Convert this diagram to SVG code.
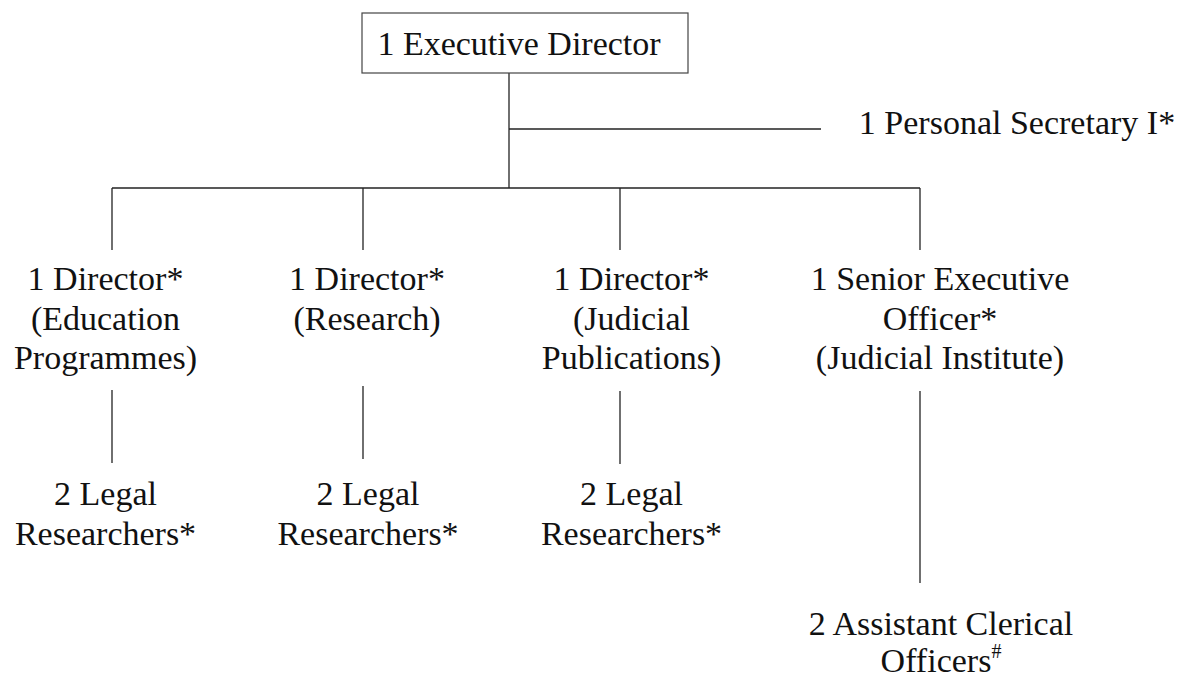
<svg xmlns="http://www.w3.org/2000/svg" width="1181" height="677" viewBox="0 0 1181 677">
  <style>
    .ln { stroke: #222; stroke-width: 1.3; fill: none; }
    .box { fill: #fff; stroke: #444; stroke-width: 1.2; }
  </style>
  <rect width="1181" height="677" fill="#fff"/>

  <!-- connectors -->
  <g id="connectors" class="ln">
    <line x1="509" y1="73" x2="509" y2="188"/>
    <line x1="509" y1="129" x2="821" y2="129"/>
    <line x1="112" y1="188" x2="920" y2="188"/>
    <line x1="112" y1="188" x2="112" y2="250"/>
    <line x1="363" y1="188" x2="363" y2="250"/>
    <line x1="620" y1="188" x2="620" y2="250"/>
    <line x1="920" y1="188" x2="920" y2="250"/>
    <line x1="112" y1="390" x2="112" y2="463"/>
    <line x1="363" y1="386" x2="363" y2="459"/>
    <line x1="620" y1="391" x2="620" y2="464"/>
    <line x1="920" y1="391" x2="920" y2="583"/>
  </g>

  <!-- labels: one serif face, centred on their column -->
  <g font-family="Liberation Serif, Times New Roman, serif" font-size="34" fill="#111" text-anchor="middle">
    <g id="executive-director">
      <rect class="box" x="362" y="13" width="326" height="60"/>
      <text x="519" y="55">1 Executive Director</text>
    </g>

    <g id="personal-secretary">
      <text x="1017" y="134">1 Personal Secretary I*</text>
    </g>

    <g id="director-education">
      <text x="105.5" y="290">1 Director*</text>
      <text x="105.5" y="330">(Education</text>
      <text x="105.5" y="369">Programmes)</text>
    </g>

    <g id="director-research">
      <text x="367" y="290">1 Director*</text>
      <text x="367" y="330">(Research)</text>
    </g>

    <g id="director-publications">
      <text x="631.5" y="290">1 Director*</text>
      <text x="631.5" y="330">(Judicial</text>
      <text x="631.5" y="369">Publications)</text>
    </g>

    <g id="senior-executive-officer">
      <text x="940" y="290">1 Senior Executive</text>
      <text x="940" y="330">Officer*</text>
      <text x="940" y="369">(Judicial Institute)</text>
    </g>

    <g id="researchers-education">
      <text x="105.5" y="505">2 Legal</text>
      <text x="105.5" y="545">Researchers*</text>
    </g>

    <g id="researchers-research">
      <text x="368" y="505">2 Legal</text>
      <text x="368" y="545">Researchers*</text>
    </g>

    <g id="researchers-publications">
      <text x="631.5" y="505">2 Legal</text>
      <text x="631.5" y="545">Researchers*</text>
    </g>

    <g id="clerical-officers">
      <text x="941" y="635">2 Assistant Clerical</text>
      <text x="941" y="672">Officers<tspan font-size="20" dy="-14">#</tspan></text>
    </g>
  </g>
</svg>
